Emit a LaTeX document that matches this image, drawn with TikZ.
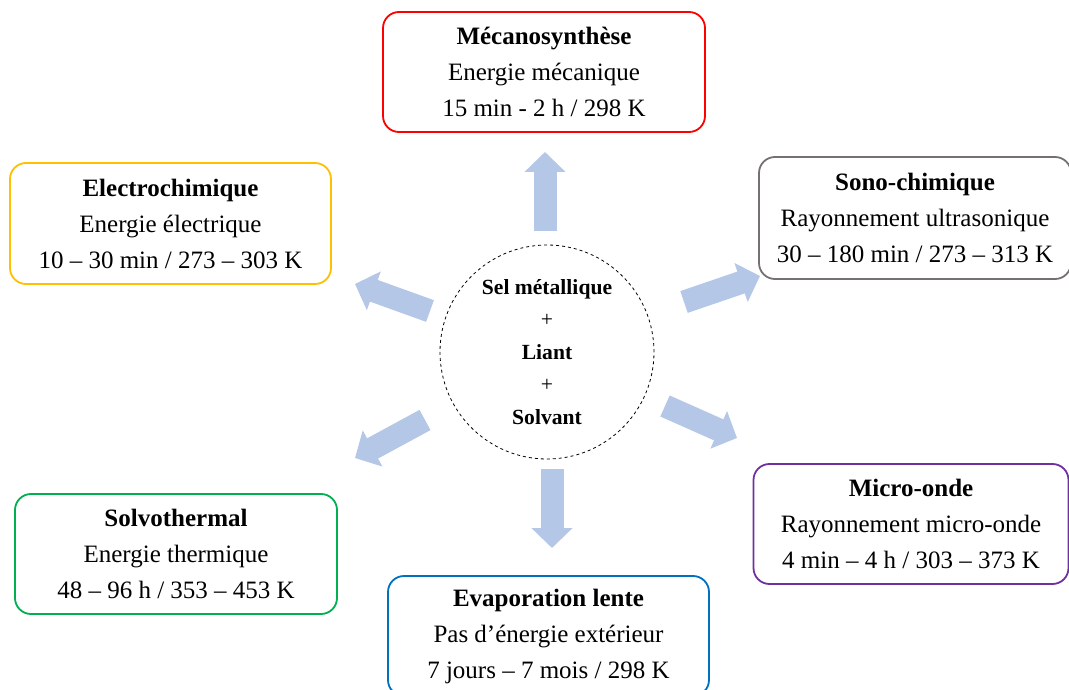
\documentclass[tikz,border=0pt]{standalone}
\usepackage{fontspec}
\setmainfont{Liberation Serif}
\usetikzlibrary{arrows.meta}
\definecolor{cred}{HTML}{FF0000}
\definecolor{cyellow}{HTML}{FFC000}
\definecolor{cgray}{HTML}{767171}
\definecolor{cpurple}{HTML}{7030A0}
\definecolor{cgreen}{HTML}{00B050}
\definecolor{cblue}{HTML}{0070C0}
\definecolor{carrow}{HTML}{B4C7E7}
\tikzset{
  methodbox/.style={draw, line width=1.8pt, rounded corners=16pt, align=center,
    inner sep=0pt, font=\fontsize{25}{36}\selectfont},
  blockarrow/.style={draw=carrow, line width=23pt, -{Triangle[width=40pt,length=20pt]}},
  centre/.style={circle, draw, dashed, line width=0.8pt, minimum size=214pt, inner sep=0pt,
    align=center, font=\bfseries\fontsize{21.6}{32.5}\selectfont}
}
\begin{document}
\begin{tikzpicture}[x=1pt,y=-1pt]
\useasboundingbox (0,0) rectangle (1069,690);
\node[centre] (c) at (547,352) {Sel métallique\\{\mdseries+}\\Liant\\{\mdseries+}\\Solvant};
\node[methodbox, draw=cred, minimum width=322pt, minimum height=120pt] (meca) at (544,72)
  {\textbf{Mécanosynthèse}\\Energie mécanique\\15 min - 2 h / 298 K};
\node[methodbox, draw=cyellow, minimum width=321pt, minimum height=121pt] (electro) at (170.5,223.5)
  {\textbf{Electrochimique}\\Energie électrique\\10 – 30 min / 273 – 303 K};
\node[methodbox, draw=cgray, minimum width=312pt, minimum height=122pt] (sono) at (915,218)
  {\textbf{Sono-chimique}\\Rayonnement ultrasonique\\30 – 180 min / 273 – 313 K};
\node[methodbox, draw=cpurple, minimum width=315pt, minimum height=120pt] (micro) at (911,524)
  {\textbf{Micro-onde}\\Rayonnement micro-onde\\4 min – 4 h / 303 – 373 K};
\node[methodbox, draw=cgreen, minimum width=322pt, minimum height=120pt] (solvo) at (176,554)
  {\textbf{Solvothermal}\\Energie thermique\\48 – 96 h / 353 – 453 K};
\node[methodbox, draw=cblue, minimum width=321pt, minimum height=120pt] (evap) at (548.5,636)
  {\textbf{Evaporation lente}\\Pas d’énergie extérieur\\7 jours – 7 mois / 298 K};
\coordinate (upA) at (545,231);  \coordinate (upB) at (545,152);
\coordinate (dnA) at (552,469);  \coordinate (dnB) at (552,548);
\coordinate (ulA) at (430,311);  \coordinate (ulB) at (355,284);
\coordinate (urA) at (684,302);  \coordinate (urB) at (760,276);
\coordinate (llA) at (425,420);  \coordinate (llB) at (355,458);
\coordinate (lrA) at (665,406);  \coordinate (lrB) at (737,438);
\draw[blockarrow] (upA) -- (upB);
\draw[blockarrow] (dnA) -- (dnB);
\draw[blockarrow] (ulA) -- (ulB);
\draw[blockarrow] (urA) -- (urB);
\draw[blockarrow] (llA) -- (llB);
\draw[blockarrow] (lrA) -- (lrB);
\end{tikzpicture}
\end{document}
